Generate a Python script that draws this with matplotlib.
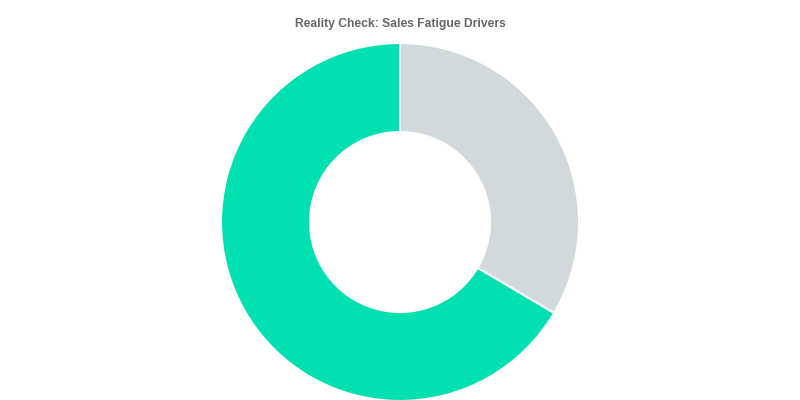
import matplotlib
matplotlib.use('Agg')
import matplotlib.pyplot as plt

labels = ['Other', 'Sales Fatigue']
values = [33.5, 66.5]
colors = ['#d1d9dc', '#00e0b1']

plt.rcParams['font.family'] = ['Liberation Sans', 'DejaVu Sans']

fig = plt.figure(figsize=(8, 4), dpi=100)
ax = fig.add_axes([0, 0, 1, 1])

r_px = 179.0
ax.pie(values, colors=colors, startangle=90, counterclock=False,
       radius=1.0,
       wedgeprops=dict(width=(179 - 90) / r_px, edgecolor='white', linewidth=1.5))

ax.set_xlim(-400 / r_px, 400 / r_px)
ax.set_ylim(-178 / r_px, 222 / r_px)
ax.set_aspect('auto')
ax.axis('off')

fig.text(0.5, 1 - 24 / 400, 'Reality Check: Sales Fatigue Drivers',
         ha='center', va='center', fontsize=8.7, fontweight='bold', color='#666666')

fig.savefig('out.png', dpi=100)
